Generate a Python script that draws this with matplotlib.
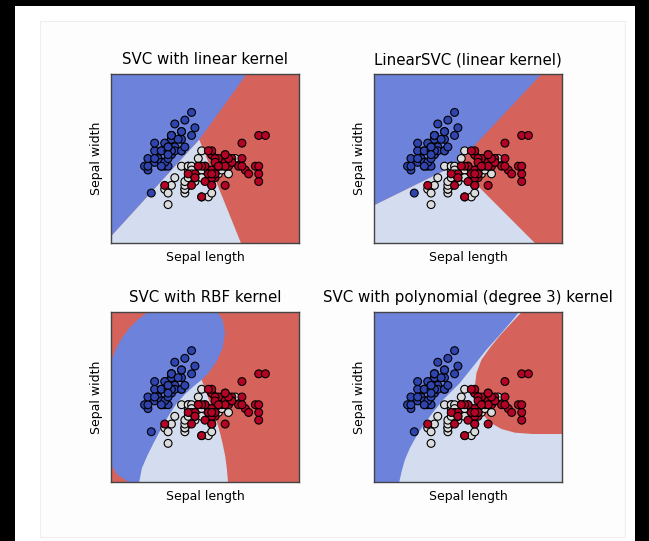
import matplotlib.pyplot as plt
from matplotlib.patches import Rectangle

# iris data: sepal length / sepal width, 50 of each class
sepal_length = [
    5.1, 4.9, 4.7, 4.6, 5.0, 5.4, 4.6, 5.0, 4.4, 4.9, 5.4, 4.8, 4.8, 4.3, 5.8, 5.7, 5.4,
    5.1, 5.7, 5.1, 5.4, 5.1, 4.6, 5.1, 4.8, 5.0, 5.0, 5.2, 5.2, 4.7, 4.8, 5.4, 5.2, 5.5,
    4.9, 5.0, 5.5, 4.9, 4.4, 5.1, 5.0, 4.5, 4.4, 5.0, 5.1, 4.8, 5.1, 4.6, 5.3, 5.0,
    7.0, 6.4, 6.9, 5.5, 6.5, 5.7, 6.3, 4.9, 6.6, 5.2, 5.0, 5.9, 6.0, 6.1, 5.6, 6.7, 5.6,
    5.8, 6.2, 5.6, 5.9, 6.1, 6.3, 6.1, 6.4, 6.6, 6.8, 6.7, 6.0, 5.7, 5.5, 5.5, 5.8, 6.0,
    5.4, 6.0, 6.7, 6.3, 5.6, 5.5, 5.5, 6.1, 5.8, 5.0, 5.6, 5.7, 5.7, 6.2, 5.1, 5.7,
    6.3, 5.8, 7.1, 6.3, 6.5, 7.6, 4.9, 7.3, 6.7, 7.2, 6.5, 6.4, 6.8, 5.7, 5.8, 6.4, 6.5,
    7.7, 7.7, 6.0, 6.9, 5.6, 7.7, 6.3, 6.7, 7.2, 6.2, 6.1, 6.4, 7.2, 7.4, 7.9, 6.4, 6.3,
    6.1, 7.7, 6.3, 6.4, 6.0, 6.9, 6.7, 6.9, 5.8, 6.8, 6.7, 6.7, 6.3, 6.5, 6.2, 5.9]
sepal_width = [
    3.5, 3.0, 3.2, 3.1, 3.6, 3.9, 3.4, 3.4, 2.9, 3.1, 3.7, 3.4, 3.0, 3.0, 4.0, 4.4, 3.9,
    3.5, 3.8, 3.8, 3.4, 3.7, 3.6, 3.3, 3.4, 3.0, 3.4, 3.5, 3.4, 3.2, 3.1, 3.4, 4.1, 4.2,
    3.1, 3.2, 3.5, 3.6, 3.0, 3.4, 3.5, 2.3, 3.2, 3.5, 3.8, 3.0, 3.8, 3.2, 3.7, 3.3,
    3.2, 3.2, 3.1, 2.3, 2.8, 2.8, 3.3, 2.4, 2.9, 2.7, 2.0, 3.0, 2.2, 2.9, 2.9, 3.1, 3.0,
    2.7, 2.2, 2.5, 3.2, 2.8, 2.5, 2.8, 2.9, 3.0, 2.8, 3.0, 2.9, 2.6, 2.4, 2.4, 2.7, 2.7,
    3.0, 3.4, 3.1, 2.3, 3.0, 2.5, 2.6, 3.0, 2.6, 2.3, 2.7, 3.0, 2.9, 2.9, 2.5, 2.8,
    3.3, 2.7, 3.0, 2.9, 3.0, 3.0, 2.5, 2.9, 2.5, 3.6, 3.2, 2.7, 3.0, 2.5, 2.8, 3.2, 3.0,
    3.8, 2.6, 2.2, 3.2, 2.8, 2.8, 2.7, 3.3, 3.2, 2.8, 3.0, 2.8, 3.0, 2.8, 3.8, 2.8, 2.8,
    2.6, 3.0, 3.4, 3.1, 3.0, 3.1, 3.1, 3.1, 2.7, 3.2, 3.3, 3.0, 2.5, 3.0, 3.4, 3.0]
species = [0] * 50 + [1] * 50 + [2] * 50

titles = ['SVC with linear kernel',
          'LinearSVC (linear kernel)',
          'SVC with RBF kernel',
          'SVC with polynomial (degree 3) kernel']

x_lim = (3.3, 8.9)
y_lim = (1.0, 5.4)

# decision regions (data units); red is the background
svc_blue = [(3.3, 5.4), (7.34, 5.4), (5.93, 3.69), (3.3, 1.17)]
svc_white = [(3.3, 1.17), (5.93, 3.69), (7.17, 1.0), (3.3, 1.0)]

lin_blue = [(3.3, 5.4), (8.29, 5.4), (5.76, 3.04), (3.3, 1.98)]
lin_white = [(3.3, 1.98), (5.76, 3.04), (8.09, 1.0), (3.3, 1.0)]

rbf_blue = [(4.408, 5.4), (6.466, 5.4), (6.624, 5.201), (6.694, 4.855), (6.624, 4.466),
            (6.446, 4.121), (6.199, 3.818), (6.001, 3.645), (5.655, 2.608), (4.962, 1.0),
            (3.814, 1.0), (3.498, 1.182), (3.3, 1.441), (3.3, 4.121), (3.458, 4.466),
            (3.656, 4.769), (3.874, 5.011), (4.121, 5.218)]
rbf_white = [(6.001, 3.645), (6.130, 3.343), (6.248, 3.040), (6.377, 2.738), (6.496, 2.435),
             (6.575, 2.176), (6.644, 1.916), (6.704, 1.657), (6.743, 1.398), (6.773, 1.138),
             (6.783, 1.0), (4.141, 1.0), (4.220, 1.355), (4.369, 1.657), (4.566, 2.003),
             (4.764, 2.331), (5.012, 2.712), (5.259, 3.040), (5.506, 3.274), (5.754, 3.472)]

poly_blue = [(3.3, 5.4), (7.622, 5.4), (7.394, 5.158), (7.096, 4.857), (6.650, 4.425),
             (6.254, 3.994), (5.857, 3.562), (5.362, 3.131), (4.965, 2.700), (4.618, 2.268),
             (4.370, 1.880), (4.222, 1.578), (4.123, 1.276), (4.053, 1.0), (3.3, 1.0)]
poly_red = [(7.701, 5.4), (8.9, 5.4), (8.9, 2.242), (8.038, 2.242), (7.493, 2.277),
            (7.096, 2.372), (6.749, 2.544), (6.502, 2.786), (6.353, 3.088), (6.303, 3.476),
            (6.353, 3.821), (6.502, 4.166), (6.749, 4.468), (7.047, 4.787), (7.394, 5.115)]

blue_c = '#6d83db'
white_c = '#d3ddef'
red_c = '#d5625b'
point_colors = ['#2f44ac', '#dcdcdc', '#b40426']

fig = plt.figure(figsize=(6.49, 5.41), dpi=100, facecolor='black')
fig.patches.append(Rectangle((15 / 649, 0), 620 / 649, 535 / 541, transform=fig.transFigure,
                             facecolor='white', edgecolor='none', zorder=-3))
fig.patches.append(Rectangle((40 / 649, 4 / 541), 585 / 649, 516 / 541, transform=fig.transFigure,
                             facecolor='#fdfdfd', edgecolor='#eeeeee', lw=0.8, zorder=-2))

positions = [[111 / 649, 298 / 541, 188 / 649, 169 / 541],
             [374 / 649, 298 / 541, 188 / 649, 169 / 541],
             [111 / 649, 59 / 541, 188 / 649, 170 / 541],
             [374 / 649, 59 / 541, 188 / 649, 170 / 541]]

regions = [[(svc_blue, blue_c), (svc_white, white_c)],
           [(lin_blue, blue_c), (lin_white, white_c)],
           [(rbf_blue, blue_c), (rbf_white, white_c)],
           [(poly_blue, blue_c), (poly_red, red_c)]]
backgrounds = [red_c, red_c, red_c, white_c]

for i in range(4):
    ax = fig.add_axes(positions[i])
    ax.set_facecolor(backgrounds[i])
    for poly, col in regions[i]:
        xs = [p[0] for p in poly]
        ys = [p[1] for p in poly]
        ax.fill(xs, ys, color=col, lw=0)
    cols = [point_colors[s] for s in species]
    ax.scatter(sepal_length, sepal_width, c=cols, s=32, edgecolors='black', linewidths=0.8, zorder=3)
    ax.set_xlim(x_lim)
    ax.set_ylim(y_lim)
    ax.set_xticks(())
    ax.set_yticks(())
    for sp in ax.spines.values():
        sp.set_color('#444444')
        sp.set_linewidth(1.0)
    ax.set_title(titles[i], fontsize=10.8, pad=7)
    ax.set_xlabel('Sepal length', fontsize=9, labelpad=6)
    ax.set_ylabel('Sepal width', fontsize=9, labelpad=6)

fig.savefig('out.png', dpi=100, facecolor=fig.get_facecolor())
